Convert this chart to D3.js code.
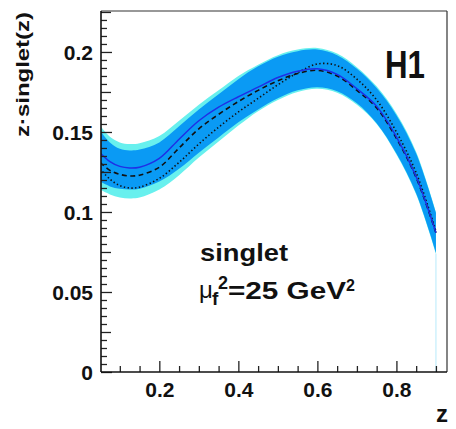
<!DOCTYPE html>
<html>
<head>
<meta charset="utf-8">
<script src="https://cdn.jsdelivr.net/npm/d3@7"></script>
<style>
  html, body { margin: 0; padding: 0; background: #fff; }
  svg { display: block; }
  text { font-family: "Liberation Sans", Arial, Helvetica, sans-serif; }
</style>
</head>
<body>
<svg id="chart" width="456" height="429"></svg>
<script>
// ---- data ----
const zValues    = [0.05, 0.075, 0.1, 0.125, 0.15, 0.2, 0.25, 0.3, 0.35, 0.4, 0.45, 0.5, 0.55, 0.6, 0.65, 0.7, 0.75, 0.8, 0.85, 0.9];
const centralFit = [0.137, 0.1315, 0.1285, 0.1275, 0.128, 0.1335, 0.1455, 0.157, 0.1655, 0.172, 0.178, 0.184, 0.188, 0.1895, 0.186, 0.177, 0.166, 0.147, 0.122, 0.087];
const dashedFit  = [0.131, 0.126, 0.1235, 0.1225, 0.123, 0.128, 0.14, 0.152, 0.161, 0.169, 0.176, 0.182, 0.1865, 0.1885, 0.185, 0.176, 0.165, 0.146, 0.1215, 0.087];
const dottedFit  = [0.127, 0.1205, 0.1165, 0.115, 0.1155, 0.121, 0.131, 0.1425, 0.153, 0.1625, 0.171, 0.1795, 0.187, 0.1925, 0.1915, 0.183, 0.17, 0.15, 0.1245, 0.088];
const outerHigh  = [0.154, 0.147, 0.1435, 0.1425, 0.143, 0.1475, 0.157, 0.167, 0.176, 0.185, 0.192, 0.198, 0.2015, 0.2025, 0.199, 0.1905, 0.1785, 0.1615, 0.1375, 0.1];
const outerLow   = [0.114, 0.111, 0.109, 0.1085, 0.109, 0.114, 0.123, 0.134, 0.144, 0.154, 0.163, 0.17, 0.175, 0.177, 0.1745, 0.167, 0.155, 0.136, 0.111, 0.074];
const innerHigh  = [0.151, 0.1435, 0.1395, 0.1385, 0.139, 0.1435, 0.1535, 0.164, 0.1735, 0.183, 0.191, 0.197, 0.2005, 0.2015, 0.198, 0.1895, 0.1775, 0.1605, 0.1365, 0.0995];
const innerLow   = [0.119, 0.116, 0.1145, 0.114, 0.1145, 0.119, 0.127, 0.137, 0.1465, 0.156, 0.164, 0.171, 0.176, 0.178, 0.1755, 0.168, 0.1555, 0.1365, 0.1115, 0.0745];

const yMajorTicks = [0, 0.05, 0.1, 0.15, 0.2];
const yTickLabels = ["0", "0.05", "0.1", "0.15", "0.2"];
const xMajorTicks = [0.2, 0.4, 0.6, 0.8];
const xTickLabels = ["0.2", "0.4", "0.6", "0.8"];
const xMinorTicks = [0.1, 0.15, 0.25, 0.3, 0.35, 0.45, 0.5, 0.55, 0.65, 0.7, 0.75, 0.85, 0.9];

// ---- layout ----
const svg = d3.select("#chart");
const L = 101, R = 447, T = 11, B = 372;
const x = d3.scaleLinear().domain([0.0524, 0.928]).range([L, R]);
const y = d3.scaleLinear().domain([0, 0.2256]).range([B, T]);

svg.append("rect").attr("width", 456).attr("height", 429).attr("fill", "#fff");

svg.append("clipPath").attr("id", "plotclip")
  .append("rect").attr("x", L).attr("y", T).attr("width", R - L).attr("height", B - T);

const plot = svg.append("g").attr("clip-path", "url(#plotclip)");

const rows = zValues.map((z, i) => ({
  z, c: centralFit[i], d: dashedFit[i], o: dottedFit[i],
  oh: outerHigh[i], ol: outerLow[i], ih: innerHigh[i], il: innerLow[i]
}));

const curve = d3.curveCatmullRom.alpha(0.5);
const area = (lo, hi) => d3.area().x(d => x(d.z)).y0(d => y(d[lo])).y1(d => y(d[hi])).curve(curve);
const line = key => d3.line().x(d => x(d.z)).y(d => y(d[key])).curve(curve);

// pale vertical edge at the end of the band
const last = rows[rows.length - 1];
plot.append("line")
  .attr("x1", x(last.z)).attr("x2", x(last.z))
  .attr("y1", y(last.ol)).attr("y2", y(0))
  .attr("stroke", "#c4eefc").attr("stroke-width", 1.2);

plot.append("path").datum(rows).attr("d", area("ol", "oh")).attr("fill", "#68f0ee");
plot.append("path").datum(rows).attr("d", area("il", "ih")).attr("fill", "#0a9af4");

plot.append("path").datum(rows).attr("d", line("o"))
  .attr("fill", "none").attr("stroke", "#111").attr("stroke-width", 1.6)
  .attr("stroke-dasharray", "1.4,2.4");
plot.append("path").datum(rows).attr("d", line("d"))
  .attr("fill", "none").attr("stroke", "#111").attr("stroke-width", 1.6)
  .attr("stroke-dasharray", "5,3.5");
plot.append("path").datum(rows).attr("d", line("c"))
  .attr("fill", "none").attr("stroke", "#1f2fe6").attr("stroke-width", 1.5);

// ---- frame ----
svg.append("line").attr("x1", L).attr("x2", R).attr("y1", T).attr("y2", T)
  .attr("stroke", "#333").attr("stroke-width", 1.2);
svg.append("line").attr("x1", R).attr("x2", R).attr("y1", T).attr("y2", B)
  .attr("stroke", "#333").attr("stroke-width", 1.2);

// ---- y axis ----
const yMinor = d3.range(0, 0.2251, 0.005).filter(v => Math.abs(v / 0.025 - Math.round(v / 0.025)) > 1e-6);
const yMedium = d3.range(0.025, 0.2251, 0.05);

const yAxisG = svg.append("g").attr("transform", `translate(${L},0)`);
yAxisG.append("g").call(d3.axisLeft(y).tickValues(yMinor).tickSize(-6).tickFormat(""))
  .call(g => g.select(".domain").remove());
yAxisG.append("g").call(d3.axisLeft(y).tickValues(yMedium).tickSize(-10).tickFormat(""))
  .call(g => g.select(".domain").remove());
yAxisG.append("g").call(d3.axisLeft(y).tickValues(yMajorTicks).tickSize(-11).tickPadding(8)
    .tickFormat((d, i) => yTickLabels[i]))
  .call(g => g.select(".domain").remove())
  .call(g => g.selectAll("text").attr("font-size", 21).attr("font-weight", "bold")
    .attr("fill", "#111").attr("font-family", "'Liberation Sans', Arial, sans-serif").attr("dy", "0.36em"));
yAxisG.selectAll(".tick line").attr("stroke", "#222").attr("stroke-width", 1.3);
yAxisG.append("line").attr("x1", 0).attr("x2", 0).attr("y1", T).attr("y2", B)
  .attr("stroke", "#111").attr("stroke-width", 1.6);

// ---- x axis ----
const xAxisG = svg.append("g").attr("transform", `translate(0,${B})`);
xAxisG.append("g").call(d3.axisBottom(x).tickValues(xMinorTicks).tickSize(-6).tickFormat(""))
  .call(g => g.select(".domain").remove());
xAxisG.append("g").call(d3.axisBottom(x).tickValues(xMajorTicks).tickSize(-11).tickPadding(10)
    .tickFormat((d, i) => xTickLabels[i]))
  .call(g => g.select(".domain").remove())
  .call(g => g.selectAll("text").attr("font-size", 21).attr("font-weight", "bold")
    .attr("fill", "#111").attr("font-family", "'Liberation Sans', Arial, sans-serif"));
xAxisG.selectAll(".tick line").attr("stroke", "#222").attr("stroke-width", 1.3);
xAxisG.append("line").attr("x1", L).attr("x2", R).attr("y1", 0).attr("y2", 0)
  .attr("stroke", "#111").attr("stroke-width", 1.6);

// ---- titles ----
svg.append("text")
  .attr("transform", "translate(28.5,12) rotate(-90)")
  .attr("text-anchor", "end")
  .attr("font-size", 19).attr("font-weight", "bold").attr("fill", "#111")
  .attr("textLength", 125).attr("lengthAdjust", "spacingAndGlyphs")
  .text("z\u00b7singlet(z)");

svg.append("text")
  .attr("x", 448).attr("y", 422).attr("text-anchor", "end")
  .attr("font-size", 24).attr("font-weight", "bold").attr("fill", "#111")
  .text("z");

svg.append("text")
  .attr("x", 385).attr("y", 78)
  .attr("font-size", 38).attr("font-weight", "bold").attr("fill", "#111")
  .attr("textLength", 40).attr("lengthAdjust", "spacingAndGlyphs")
  .text("H1");

svg.append("text")
  .attr("x", 200).attr("y", 261)
  .attr("font-size", 24).attr("font-weight", "bold").attr("fill", "#111")
  .attr("textLength", 88).attr("lengthAdjust", "spacingAndGlyphs")
  .text("singlet");

const mu = svg.append("g").attr("fill", "#111");
mu.append("text").attr("x", 199).attr("y", 298).attr("font-size", 24)
  .attr("font-family", "'DejaVu Sans', 'Liberation Sans', sans-serif").text("\u03bc");
mu.append("text").attr("x", 212).attr("y", 305).attr("font-size", 19).attr("font-weight", "bold").text("f");
mu.append("text").attr("x", 218).attr("y", 289).attr("font-size", 18).attr("font-weight", "bold").text("2");
mu.append("text").attr("x", 228).attr("y", 299).attr("font-size", 24).attr("font-weight", "bold")
  .attr("textLength", 118).attr("lengthAdjust", "spacingAndGlyphs").text("=25 GeV");
mu.append("text").attr("x", 346).attr("y", 291).attr("font-size", 16).attr("font-weight", "bold").text("2");
</script>
</body>
</html>
